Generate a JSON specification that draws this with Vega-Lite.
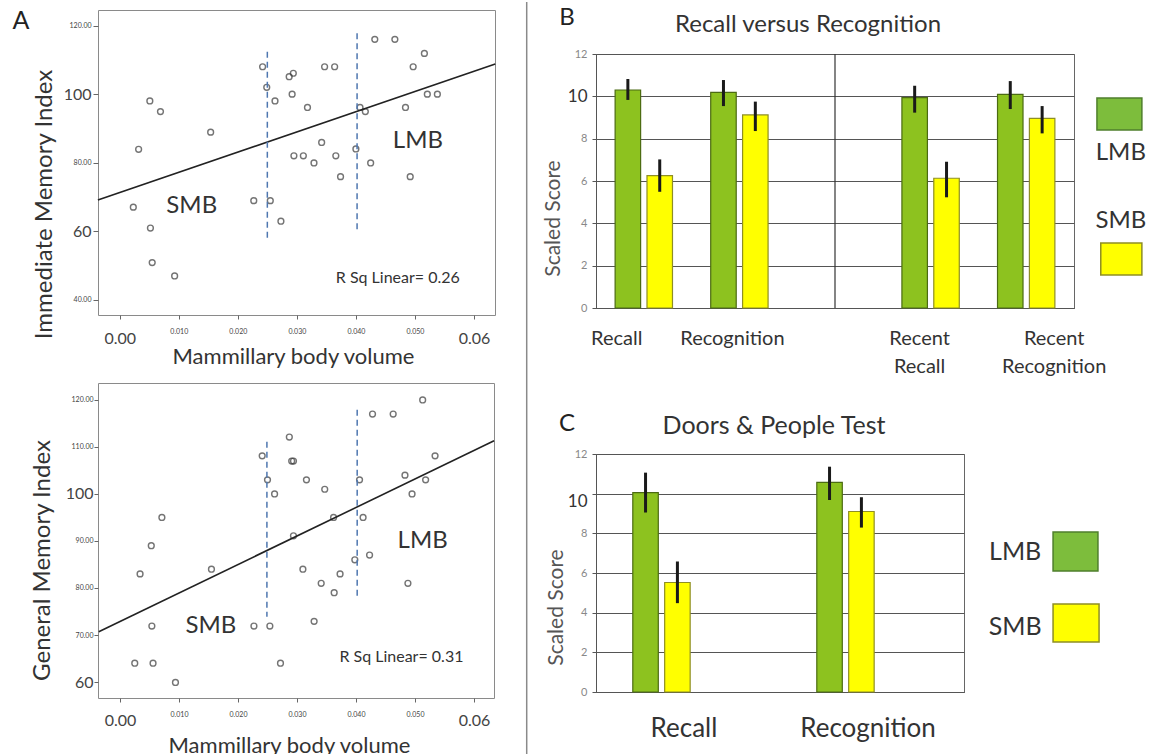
{
  "$schema": "https://vega.github.io/schema/vega-lite/v6.json",
  "background": "white",
  "padding": {"left": 12, "top": 0, "right": 0, "bottom": 0},
  "config": {
    "font": "Lato",
    "view": {"stroke": "#8a8a8a", "strokeWidth": 1},
    "axis": {"labelFont": "Lato", "titleFont": "Lato", "titleFontWeight": "normal", "labelColor": "#444", "titleColor": "#333"},
    "title": {"font": "Lato", "fontWeight": "normal", "color": "#333"},
    "text": {"font": "Lato"}
  },
  "datasets": {
    "imi": [
      {"volume": 0.0023, "index": 67.1}, {"volume": 0.0032, "index": 84.0}, {"volume": 0.0051, "index": 98.1},
      {"volume": 0.0069, "index": 95.0}, {"volume": 0.0052, "index": 61.0}, {"volume": 0.0055, "index": 50.9},
      {"volume": 0.0093, "index": 47.0}, {"volume": 0.0154, "index": 89.0}, {"volume": 0.0227, "index": 69.0},
      {"volume": 0.0242, "index": 108.1}, {"volume": 0.0249, "index": 102.1}, {"volume": 0.0255, "index": 69.0},
      {"volume": 0.0263, "index": 98.1}, {"volume": 0.0273, "index": 63.0}, {"volume": 0.0287, "index": 105.2},
      {"volume": 0.0294, "index": 106.2}, {"volume": 0.0292, "index": 100.1}, {"volume": 0.0295, "index": 82.1},
      {"volume": 0.0311, "index": 82.1}, {"volume": 0.0318, "index": 96.2}, {"volume": 0.0329, "index": 80.0},
      {"volume": 0.0342, "index": 86.0}, {"volume": 0.0347, "index": 108.1}, {"volume": 0.0364, "index": 108.1},
      {"volume": 0.0366, "index": 82.1}, {"volume": 0.0374, "index": 76.0}, {"volume": 0.0400, "index": 84.1},
      {"volume": 0.0407, "index": 96.2}, {"volume": 0.0416, "index": 95.0}, {"volume": 0.0425, "index": 80.0},
      {"volume": 0.0432, "index": 116.1}, {"volume": 0.0466, "index": 116.1}, {"volume": 0.0484, "index": 96.2},
      {"volume": 0.0492, "index": 76.0}, {"volume": 0.0497, "index": 108.1}, {"volume": 0.0516, "index": 112.0},
      {"volume": 0.0521, "index": 100.1}, {"volume": 0.0538, "index": 100.1}
    ],
    "imiFit": [{"volume": -0.0037, "index": 69.2}, {"volume": 0.0636, "index": 108.9}],
    "imiSplit": [{"volume": 0.0250, "index": 112.5, "index2": 58.0}, {"volume": 0.0402, "index": 117.9, "index2": 60.4}],
    "imiNotes": [
      {"label": "SMB", "volume": 0.0122, "index": 67.4},
      {"label": "LMB", "volume": 0.0505, "index": 86.5},
      {"label": "R Sq Linear= 0.26", "volume": 0.0471, "index": 46.5}
    ],
    "gmi": [
      {"volume": 0.0025, "index": 64.0}, {"volume": 0.0034, "index": 83.0}, {"volume": 0.0053, "index": 89.0},
      {"volume": 0.0054, "index": 71.9}, {"volume": 0.0056, "index": 64.0}, {"volume": 0.0071, "index": 95.0},
      {"volume": 0.0094, "index": 59.9}, {"volume": 0.0155, "index": 84.0}, {"volume": 0.0227, "index": 71.9},
      {"volume": 0.0241, "index": 108.1}, {"volume": 0.0250, "index": 103.0}, {"volume": 0.0254, "index": 71.9},
      {"volume": 0.0262, "index": 100.0}, {"volume": 0.0272, "index": 64.0}, {"volume": 0.0287, "index": 112.1},
      {"volume": 0.0291, "index": 107.0}, {"volume": 0.0294, "index": 107.0}, {"volume": 0.0294, "index": 91.1},
      {"volume": 0.0310, "index": 84.0}, {"volume": 0.0316, "index": 103.0}, {"volume": 0.0329, "index": 72.9},
      {"volume": 0.0341, "index": 81.0}, {"volume": 0.0347, "index": 101.0}, {"volume": 0.0362, "index": 95.0},
      {"volume": 0.0363, "index": 79.0}, {"volume": 0.0373, "index": 83.0}, {"volume": 0.0398, "index": 86.0},
      {"volume": 0.0406, "index": 103.0}, {"volume": 0.0412, "index": 95.0}, {"volume": 0.0423, "index": 87.0},
      {"volume": 0.0428, "index": 117.0}, {"volume": 0.0463, "index": 117.0}, {"volume": 0.0483, "index": 104.0},
      {"volume": 0.0488, "index": 81.0}, {"volume": 0.0495, "index": 100.0}, {"volume": 0.0513, "index": 120.0},
      {"volume": 0.0518, "index": 103.0}, {"volume": 0.0534, "index": 108.1}
    ],
    "gmiFit": [{"volume": -0.0036, "index": 70.7}, {"volume": 0.0634, "index": 111.3}],
    "gmiSplit": [{"volume": 0.0249, "index": 111.1, "index2": 73.9}, {"volume": 0.0402, "index": 117.9, "index2": 77.8}],
    "gmiNotes": [
      {"label": "SMB", "volume": 0.0154, "index": 71.9},
      {"label": "LMB", "volume": 0.0513, "index": 90.1},
      {"label": "R Sq Linear= 0.31", "volume": 0.0477, "index": 65.4}
    ],
    "recallRecog": [
      {"test": "Recall", "group": "LMB", "score": 10.30, "lo": 9.83, "hi": 10.82},
      {"test": "Recall", "group": "SMB", "score": 6.25, "lo": 5.49, "hi": 7.02},
      {"test": "Recognition", "group": "LMB", "score": 10.19, "lo": 9.54, "hi": 10.77},
      {"test": "Recognition", "group": "SMB", "score": 9.12, "lo": 8.36, "hi": 9.75},
      {"test": "Recent Recall", "group": "LMB", "score": 9.94, "lo": 9.23, "hi": 10.50},
      {"test": "Recent Recall", "group": "SMB", "score": 6.13, "lo": 5.23, "hi": 6.91},
      {"test": "Recent Recognition", "group": "LMB", "score": 10.09, "lo": 9.40, "hi": 10.72},
      {"test": "Recent Recognition", "group": "SMB", "score": 8.96, "lo": 8.25, "hi": 9.54}
    ],
    "doorsPeople": [
      {"test": "Recall", "group": "LMB", "score": 10.05, "lo": 9.05, "hi": 11.06},
      {"test": "Recall", "group": "SMB", "score": 5.52, "lo": 4.48, "hi": 6.58},
      {"test": "Recognition", "group": "LMB", "score": 10.57, "lo": 9.68, "hi": 11.36},
      {"test": "Recognition", "group": "SMB", "score": 9.10, "lo": 8.29, "hi": 9.82}
    ]
  },
  "bounds": "flush",
  "spacing": 498,
  "hconcat": [
    {
      "bounds": "flush",
      "spacing": 68,
      "vconcat": [
        {
          "width": 397,
          "height": 305,
          "layer": [
            {
              "encoding": {
                "x": {
                  "field": "volume", "type": "quantitative",
                  "scale": {"domain": [-0.00368, 0.06356], "nice": false, "zero": false},
                  "axis": {
                    "title": "Mammillary body volume",
                    "values": [0, 0.01, 0.02, 0.03, 0.04, 0.05, 0.06],
                    "labelExpr": "datum.value < 0.001 || datum.value > 0.059 ? format(datum.value, '.2f') : format(datum.value, '.3f')",
                    "labelFontSize": {"condition": {"test": "datum.value < 0.001 || datum.value > 0.059", "value": 16}, "value": 7},
                    "labelPadding": {"condition": {"test": "datum.value < 0.001 || datum.value > 0.059", "value": 24}, "value": 14},
                    "labelColor": "#444",
                    "labelBaseline": "alphabetic",
                    "tickSize": 4,
                    "tickColor": "#666",
                    "domain": false,
                    "grid": false,
                    "labelOverlap": false,
                    "labelFlush": false,
                    "labelBound": false,
                    "titleFontSize": 22,
                    "titleX": 195,
                    "titleY": 48,
                    "titleBaseline": "alphabetic"
                  }
                },
                "y": {
                  "field": "index", "type": "quantitative",
                  "scale": {"domain": [35.6, 124.67], "nice": false, "zero": false},
                  "axis": {
                    "title": "Immediate Memory Index",
                    "values": [40, 60, 80, 100, 120],
                    "labelExpr": "datum.value == 60 || datum.value == 100 ? format(datum.value, 'd') : format(datum.value, '.2f')",
                    "labelFontSize": {"condition": {"test": "datum.value == 60 || datum.value == 100", "value": 16}, "value": 7},
                    "labelColor": "#444",
                    "tickSize": 5,
                    "tickColor": "#666",
                    "labelPadding": 2,
                    "domain": false,
                    "grid": false,
                    "labelOverlap": false,
                    "labelBound": false,
                    "titleFontSize": 24,
                    "titleX": -54,
                    "titleY": 194,
                    "titleBaseline": "middle"
                  }
                }
              },
              "layer": [
                {"data": {"name": "imi"}, "mark": {"type": "point", "filled": false, "stroke": "#3a3a3a", "strokeWidth": 1.4, "size": 34}},
                {"data": {"name": "imiFit"}, "mark": {"type": "line", "color": "#222", "strokeWidth": 1.6}},
                {"data": {"name": "imiSplit"}, "mark": {"type": "rule", "color": "#4f77b0", "strokeWidth": 1.5, "strokeDash": [6, 4]},
                 "encoding": {"y2": {"field": "index2"}}},
                {"data": {"name": "imiNotes"}, "mark": {"type": "text", "color": "#333", "align": "center", "baseline": "middle"},
                 "encoding": {"text": {"field": "label"}, "size": {"condition": {"test": "indexof(datum.label, 'R Sq') == 0", "value": 16}, "value": 24}}}
              ]
            },
            {
              "layer": [
                {"data": {"values": [{"panel": "A"}]}, "mark": {"type": "text", "color": "#222", "fontSize": 25, "align": "center", "baseline": "middle"},
                 "encoding": {
                   "x": {"datum": -0.01672, "type": "quantitative", "scale": {"domain": [-0.00368, 0.06356], "nice": false, "zero": false}},
                   "y": {"datum": 121.46, "type": "quantitative", "scale": {"domain": [35.6, 124.67], "nice": false, "zero": false}},
                   "text": {"field": "panel"}}},
                {"data": {"values": [{"panel": "B"}]}, "mark": {"type": "text", "color": "#222", "fontSize": 24, "align": "center", "baseline": "middle"},
                 "encoding": {
                   "x": {"datum": 0.07576, "type": "quantitative", "scale": {"domain": [-0.00368, 0.06356], "nice": false, "zero": false}},
                   "y": {"datum": 122.33, "type": "quantitative", "scale": {"domain": [35.6, 124.67], "nice": false, "zero": false}},
                   "text": {"field": "panel"}}},
                {"data": {"values": [{"panel": "C"}]}, "mark": {"type": "text", "color": "#222", "fontSize": 24, "align": "center", "baseline": "middle"},
                 "encoding": {
                   "x": {"datum": 0.07576, "type": "quantitative", "scale": {"domain": [-0.00368, 0.06356], "nice": false, "zero": false}},
                   "y": {"datum": 3.77, "type": "quantitative", "scale": {"domain": [35.6, 124.67], "nice": false, "zero": false}},
                   "text": {"field": "panel"}}},
                {"data": {"values": [{"divider": 1}]}, "mark": {"type": "rule", "color": "#8a8a8a", "strokeWidth": 1.5},
                 "encoding": {
                   "x": {"datum": 0.06893, "type": "quantitative", "scale": {"domain": [-0.00368, 0.06356], "nice": false, "zero": false}},
                   "y": {"datum": 127.0, "type": "quantitative", "scale": {"domain": [35.6, 124.67], "nice": false, "zero": false}},
                   "y2": {"datum": -92.6}}}
              ]
            }
          ]
        },
        {
          "width": 396,
          "height": 315,
          "encoding": {
            "x": {
              "field": "volume", "type": "quantitative",
              "scale": {"domain": [-0.00373, 0.06339], "nice": false, "zero": false},
              "axis": {
                "title": "Mammillary body volume",
                "values": [0, 0.01, 0.02, 0.03, 0.04, 0.05, 0.06],
                "labelExpr": "datum.value < 0.001 || datum.value > 0.059 ? format(datum.value, '.2f') : format(datum.value, '.3f')",
                "labelFontSize": {"condition": {"test": "datum.value < 0.001 || datum.value > 0.059", "value": 16}, "value": 7},
                "labelPadding": {"condition": {"test": "datum.value < 0.001 || datum.value > 0.059", "value": 23}, "value": 14},
                "labelColor": "#444",
                "labelBaseline": "alphabetic",
                "tickSize": 4,
                "tickColor": "#666",
                "domain": false,
                "grid": false,
                "labelOverlap": false,
                "labelFlush": false,
                "labelBound": false,
                "titleFontSize": 22,
                "titleX": 191,
                "titleY": 54,
                "titleBaseline": "alphabetic"
              }
            },
            "y": {
              "field": "index", "type": "quantitative",
              "scale": {"domain": [56.6, 123.6], "nice": false, "zero": false},
              "axis": {
                "title": "General Memory Index",
                "values": [60, 70, 80, 90, 100, 110, 120],
                "labelExpr": "datum.value == 60 || datum.value == 100 ? format(datum.value, 'd') : format(datum.value, '.2f')",
                "labelFontSize": {"condition": {"test": "datum.value == 60 || datum.value == 100", "value": 16}, "value": 7},
                "labelColor": "#444",
                "tickSize": 4,
                "tickColor": "#666",
                "labelPadding": 1,
                "domain": false,
                "grid": false,
                "labelOverlap": false,
                "labelBound": false,
                "titleFontSize": 24,
                "titleX": -56,
                "titleY": 177,
                "titleBaseline": "middle"
              }
            }
          },
          "layer": [
            {"data": {"name": "gmi"}, "mark": {"type": "point", "filled": false, "stroke": "#3a3a3a", "strokeWidth": 1.4, "size": 34}},
            {"data": {"name": "gmiFit"}, "mark": {"type": "line", "color": "#222", "strokeWidth": 1.6}},
            {"data": {"name": "gmiSplit"}, "mark": {"type": "rule", "color": "#4f77b0", "strokeWidth": 1.5, "strokeDash": [6, 4]},
             "encoding": {"y2": {"field": "index2"}}},
            {"data": {"name": "gmiNotes"}, "mark": {"type": "text", "color": "#333", "align": "center", "baseline": "middle"},
             "encoding": {"text": {"field": "label"}, "size": {"condition": {"test": "indexof(datum.label, 'R Sq') == 0", "value": 16}, "value": 24}}}
          ]
        }
      ]
    },
    {
      "bounds": "flush",
      "spacing": 444,
      "vconcat": [
        {
          "bounds": "flush",
          "spacing": 40,
          "vconcat": [
            {"width": 2, "height": 4, "view": {"stroke": null}, "data": {"values": [{"k": 1}]}, "mark": {"type": "point", "opacity": 0}},
            {
              "width": 478,
              "height": 254,
              "view": {"stroke": "#666"},
              "title": {"text": "Recall versus Recognition", "fontSize": 24, "frame": "group", "anchor": "middle", "dx": -27, "dy": 23, "offset": 15, "baseline": "alphabetic"},
              "resolve": {"scale": {"x": "independent"}},
              "layer": [
                {
                  "encoding": {
                    "x": {
                      "field": "test", "type": "nominal",
                      "scale": {"domain": ["Recall", "Recognition", "gap", "Recent Recall", "Recent Recognition"], "paddingInner": 0.4, "paddingOuter": 0.2},
                      "axis": {
                        "title": null,
                        "labelAngle": 0,
                        "labelExpr": "datum.value == 'gap' ? '' : datum.value == 'Recent Recall' ? ['Recent', 'Recall'] : datum.value == 'Recent Recognition' ? ['Recent', 'Recognition'] : datum.label",
                        "labelFontSize": 20,
                        "labelColor": "#333",
                        "labelOffset": {"condition": [
                          {"test": "datum.value == 'Recall'", "value": -27},
                          {"test": "datum.value == 'Recognition'", "value": -7},
                          {"test": "datum.value == 'Recent Recall'", "value": -11}
                        ], "value": 28},
                        "labelPadding": 36,
                        "labelBaseline": "alphabetic",
                        "labelLineHeight": 28,
                        "labelOverlap": false,
                        "labelBound": false,
                        "ticks": false,
                        "tickSize": 0,
                        "domain": true,
                        "domainColor": "#555"
                      }
                    }
                  },
                  "layer": [
                    {
                      "data": {"name": "recallRecog"},
                      "mark": {"type": "bar", "strokeWidth": 1.2},
                      "encoding": {
                        "xOffset": {"field": "group", "type": "nominal", "scale": {"domain": ["LMB", "SMB"], "paddingInner": 0.2, "paddingOuter": 0}},
                        "y": {
                          "field": "score", "type": "quantitative",
                          "scale": {"domain": [0, 12], "nice": false},
                          "axis": {
                            "title": "Scaled Score",
                            "values": [0, 2, 4, 6, 8, 10, 12],
                            "grid": true, "gridColor": "#555", "gridWidth": 1.2,
                            "domain": true, "domainColor": "#555",
                            "tickSize": 4, "tickColor": "#555",
                            "labelPadding": 5,
                            "labelOverlap": false,
                            "labelFontSize": {"condition": {"test": "datum.value == 10", "value": 17}, "value": 11},
                            "labelColor": {"condition": {"test": "datum.value == 10", "value": "#333"}, "value": "#888"},
                            "titleFontSize": 21, "titleColor": "#555",
                            "titleX": -43, "titleY": 164, "titleBaseline": "middle"
                          }
                        },
                        "color": {"field": "group", "type": "nominal", "scale": {"domain": ["LMB", "SMB"], "range": ["#8dc21f", "#ffff00"]}, "legend": null},
                        "stroke": {"field": "group", "type": "nominal", "scale": {"domain": ["LMB", "SMB"], "range": ["#4b6b12", "#8e8e24"]}, "legend": null}
                      }
                    },
                    {
                      "data": {"name": "recallRecog"},
                      "mark": {"type": "rule", "color": "#1a1a1a", "strokeWidth": 3},
                      "encoding": {
                        "xOffset": {"field": "group", "type": "nominal"},
                        "y": {"field": "lo", "type": "quantitative"},
                        "y2": {"field": "hi"}
                      }
                    },
                    {
                      "data": {"values": [{"test": "gap"}]},
                      "mark": {"type": "rule", "color": "#333", "strokeWidth": 1.2},
                      "encoding": {"y": {"datum": 0, "type": "quantitative"}, "y2": {"datum": 12}}
                    }
                  ]
                },
                {
                  "layer": [
                    {"data": {"values": [{"group": "LMB"}]}, "mark": {"type": "rect", "fill": "#7dbd3c", "stroke": "#4f7f2c", "strokeWidth": 1.5},
                     "encoding": {"x": {"datum": 1.048, "type": "quantitative", "scale": {"domain": [0, 1], "nice": false, "zero": false}, "axis": null}, "x2": {"datum": 1.142}, "y": {"datum": 9.92, "type": "quantitative"}, "y2": {"datum": 8.41}}},
                    {"data": {"values": [{"group": "SMB"}]}, "mark": {"type": "rect", "fill": "#ffff00", "stroke": "#8e8e24", "strokeWidth": 1.5},
                     "encoding": {"x": {"datum": 1.056, "type": "quantitative", "axis": null}, "x2": {"datum": 1.142}, "y": {"datum": 3.07, "type": "quantitative"}, "y2": {"datum": 1.56}}},
                    {"data": {"values": [{"group": "LMB"}]}, "mark": {"type": "text", "fontSize": 24, "color": "#333", "align": "center", "baseline": "middle"},
                     "encoding": {"x": {"datum": 1.098, "type": "quantitative", "axis": null}, "y": {"datum": 7.32, "type": "quantitative"}, "text": {"field": "group"}}},
                    {"data": {"values": [{"group": "SMB"}]}, "mark": {"type": "text", "fontSize": 24, "color": "#333", "align": "center", "baseline": "middle"},
                     "encoding": {"x": {"datum": 1.098, "type": "quantitative", "axis": null}, "y": {"datum": 4.11, "type": "quantitative"}, "text": {"field": "group"}}}
                  ]
                }
              ]
            }
          ]
        },
        {
          "width": 368,
          "height": 238,
          "view": {"stroke": "#666"},
          "title": {"text": "Doors & People Test", "fontSize": 25, "frame": "group", "anchor": "middle", "dx": -6, "dy": 24, "offset": 13, "baseline": "alphabetic"},
          "resolve": {"scale": {"x": "independent"}},
          "layer": [
            {
              "data": {"name": "doorsPeople"},
              "encoding": {
                "x": {
                  "field": "test", "type": "nominal",
                  "scale": {"domain": ["Recall", "Recognition"], "paddingInner": 0.4, "paddingOuter": 0.2},
                  "axis": {
                    "title": null,
                    "labelAngle": 0,
                    "labelFontSize": 26,
                    "labelColor": "#333",
                    "labelOffset": -4,
                    "labelPadding": 44,
                    "labelBaseline": "alphabetic",
                    "labelOverlap": false,
                    "labelBound": false,
                    "ticks": false,
                    "tickSize": 0,
                    "domain": true,
                    "domainColor": "#555"
                  }
                },
                "xOffset": {"field": "group", "type": "nominal", "scale": {"domain": ["LMB", "SMB"], "paddingInner": 0.12, "paddingOuter": 0}}
              },
              "layer": [
                {
                  "mark": {"type": "bar", "strokeWidth": 1.2},
                  "encoding": {
                    "y": {
                      "field": "score", "type": "quantitative",
                      "scale": {"domain": [0, 12], "nice": false},
                      "axis": {
                        "title": "Scaled Score",
                        "values": [0, 2, 4, 6, 8, 10, 12],
                        "tickCount": 7,
                        "grid": true, "gridColor": "#555", "gridWidth": 1.2,
                        "domain": true, "domainColor": "#555",
                        "tickSize": 4, "tickColor": "#555",
                        "labelPadding": 5,
                        "labelOverlap": false,
                        "labelFontSize": {"condition": {"test": "datum.value == 10", "value": 17}, "value": 11},
                        "labelColor": {"condition": {"test": "datum.value == 10", "value": "#333"}, "value": "#888"},
                        "labelBaseline": {"condition": {"test": "datum.value == 10", "value": "top"}, "value": "middle"},
                        "titleFontSize": 21, "titleColor": "#555",
                        "titleX": -40, "titleY": 153, "titleBaseline": "middle"
                      }
                    },
                    "color": {"field": "group", "type": "nominal", "scale": {"domain": ["LMB", "SMB"], "range": ["#8dc21f", "#ffff00"]}, "legend": null},
                    "stroke": {"field": "group", "type": "nominal", "scale": {"domain": ["LMB", "SMB"], "range": ["#4b6b12", "#8e8e24"]}, "legend": null}
                  }
                },
                {
                  "mark": {"type": "rule", "color": "#1a1a1a", "strokeWidth": 3},
                  "encoding": {"y": {"field": "lo", "type": "quantitative"}, "y2": {"field": "hi"}}
                }
              ]
            },
            {
              "layer": [
                {"data": {"values": [{"group": "LMB"}]}, "mark": {"type": "rect", "fill": "#7dbd3c", "stroke": "#4f7f2c", "strokeWidth": 1.5},
                 "encoding": {"x": {"datum": 1.242, "type": "quantitative", "scale": {"domain": [0, 1], "nice": false, "zero": false}, "axis": null}, "x2": {"datum": 1.364}, "y": {"datum": 8.07, "type": "quantitative"}, "y2": {"datum": 6.10}}},
                {"data": {"values": [{"group": "SMB"}]}, "mark": {"type": "rect", "fill": "#ffff00", "stroke": "#8e8e24", "strokeWidth": 1.5},
                 "encoding": {"x": {"datum": 1.242, "type": "quantitative", "axis": null}, "x2": {"datum": 1.367}, "y": {"datum": 4.44, "type": "quantitative"}, "y2": {"datum": 2.52}}},
                {"data": {"values": [{"group": "LMB"}]}, "mark": {"type": "text", "fontSize": 25, "color": "#333", "align": "center", "baseline": "middle"},
                 "encoding": {"x": {"datum": 1.139, "type": "quantitative", "axis": null}, "y": {"datum": 7.06, "type": "quantitative"}, "text": {"field": "group"}}},
                {"data": {"values": [{"group": "SMB"}]}, "mark": {"type": "text", "fontSize": 25, "color": "#333", "align": "center", "baseline": "middle"},
                 "encoding": {"x": {"datum": 1.139, "type": "quantitative", "axis": null}, "y": {"datum": 3.28, "type": "quantitative"}, "text": {"field": "group"}}}
              ]
            }
          ]
        }
      ]
    }
  ]
}
